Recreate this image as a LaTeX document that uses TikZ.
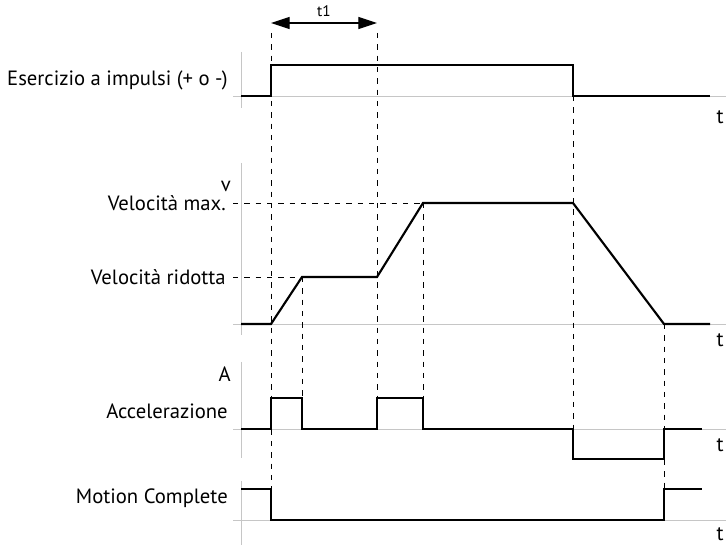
\documentclass[tikz,border=0pt]{standalone}
\usepackage{fontspec}
\setmainfont{PT Sans}
\usetikzlibrary{arrows.meta, positioning}

\tikzset{
  axis/.style={gray!45, line width=0.6pt},
  signal/.style={black, line width=1.6pt, line join=miter},
  guide/.style={black, line width=0.6pt, dash pattern=on 4pt off 4.5pt},
  lbl/.style={anchor=east, inner sep=0pt, font=\fontsize{15.5}{17}\selectfont},
  tlbl/.style={anchor=center, inner sep=0pt, font=\fontsize{15.5}{17}\selectfont}
}

\begin{document}
\begin{tikzpicture}[x=0.75pt, y=-0.75pt]
    \useasboundingbox (0,0) rectangle (726,545);

    % Event coordinates
    \coordinate (on)   at (271,33);
    \coordinate (t1e)  at (377,33);
    \coordinate (off)  at (573,96);
    \coordinate (vr)   at (302,277);
    \coordinate (vm)   at (423,203);
    \coordinate (stop) at (664,324);

    % Axes
    \draw[axis] (241,52) -- (241,108);
    \draw[axis] (233,96) -- (726,96);
    \draw[axis] (241,163) -- (241,335);
    \draw[axis] (233,324) -- (726,324);
    \draw[axis] (241,362) -- (241,458);
    \draw[axis] (233,429) -- (726,429);
    \draw[axis] (241,481) -- (241,545);
    \draw[axis] (233,520) -- (726,520);

    % Guide lines
    \draw[guide] (on) -- (on |- 0,489);
    \draw[guide] (t1e) -- (t1e |- 0,398);
    \draw[guide] (vr) -- (vr |- 0,398);
    \draw[guide] (vm) -- (vm |- 0,398);
    \draw[guide] (off) -- (off |- 0,429);
    \draw[guide] (stop) -- (stop |- 0,489);
    \draw[guide] (233,203) -- (vm);
    \draw[guide] (233,277) -- (vr);

    % t1
    \coordinate (t1a) at (271,23);
    \coordinate (t1b) at (377,23);
    \draw[{Triangle[length=14pt,width=9pt]}-{Triangle[length=14pt,width=9pt]}, line width=0.9pt] (t1a) -- (t1b)
      node[midway, above=4pt, inner sep=0pt, anchor=south, font=\fontsize{11.5}{13}\selectfont] (t1) {t1};

    % Signals
    \draw[signal] (241,96) -- (271,96) -- (271,65) -- (573,65) -- (573,96) -- (710,96);
    \draw[signal] (241,324) -- (271,324) -- (vr) -- (377,277) -- (vm) -- (573,203) -- (stop) -- (710,324);
    \draw[signal] (241,429) -- (271,429) -- (271,398) -- (302,398) -- (302,429) -- (377,429)
      -- (377,398) -- (423,398) -- (423,429) -- (573,429) -- (573,459) -- (664,459) -- (664,429) -- (702,429);
    \draw[signal] (241,489) -- (271,489) -- (271,520) -- (664,520) -- (664,489) -- (702,489);

    % Labels
    \node[lbl] (ese) at (228,80) {Esercizio a impulsi (+ o -)};
    \node[lbl] (v) at (231,186) {v};
    \node[lbl] (vmax) at (226,203) {Velocità max.};
    \node[lbl] (vrid) at (226,277) {Velocità ridotta};
    \node[lbl] (acc) at (231,374) {A};
    \node[lbl] (accel) at (228,411) {Accelerazione};
    \node[lbl] (mc) at (228,498) {Motion Complete};
    \node[tlbl] (ta) at (720,117) {t};
    \node[tlbl] (tb) at (720,340) {t};
    \node[tlbl] (tc) at (720,445) {t};
    \node[tlbl] (td) at (720,534) {t};
\end{tikzpicture}
\end{document}
